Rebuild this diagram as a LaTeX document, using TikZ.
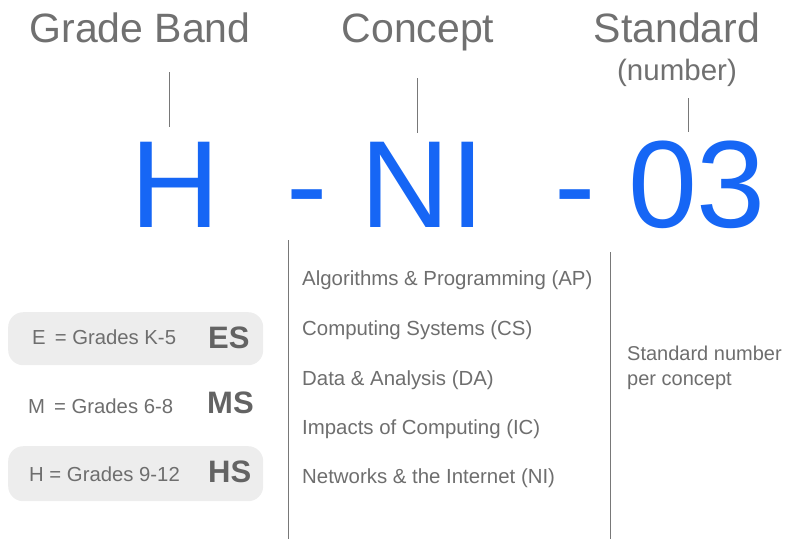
\documentclass[tikz,border=0pt]{standalone}
\usepackage{fontspec}
\setmainfont{Liberation Sans}
\definecolor{bigblue}{RGB}{22,102,245}
\definecolor{titlegray}{RGB}{112,112,112}
\definecolor{txtgray}{RGB}{110,110,110}
\definecolor{boxgray}{RGB}{237,237,237}
\definecolor{linegray}{RGB}{120,120,120}
\begin{document}
\begin{tikzpicture}[x=1pt,y=-1pt,
  title/.style={inner sep=0pt,anchor=base,text=titlegray,font=\fontsize{41}{41}\selectfont},
  big/.style={inner sep=0pt,anchor=base,text=bigblue,font=\fontsize{124}{124}\selectfont},
  item/.style={inner sep=0pt,anchor=base west,text=txtgray,font=\fontsize{20.4}{22}\selectfont},
  grade/.style={inner sep=0pt,anchor=base west,text=txtgray,font=\fontsize{20.3}{22}\selectfont},
  band/.style={inner sep=0pt,anchor=base west,text=txtgray!90!black,font=\fontsize{31}{31}\selectfont\bfseries},
  gbox/.style={fill=boxgray,rounded corners=15pt,draw=none},
  tick/.style={draw=linegray,line width=0.7pt},
  sep/.style={draw=linegray,line width=0.8pt}]
\useasboundingbox (0,0) rectangle (787,539);
% titles
\node[title] (tgrade) at (140,42) {Grade Band};
\node[title] (tconcept) at (418,42) {Concept};
\node[title] (tstd) at (677,42) {Standard};
\node[title,font=\fontsize{29.5}{29.5}\selectfont] (tnum) at (677,80) {(number)};
% big code
\node[big] (H) at (175,227) {H};
\node[big] (d1) at (307.5,227) {-};
\node[big] (NI) at (422.5,227) {NI};
\node[big] (d2) at (575,227) {-};
\node[big] (N03) at (697,227) {03};
% ticks
\coordinate (g1) at (169.5,72); \coordinate (g2) at (169.5,127);
\coordinate (c1) at (417,78); \coordinate (c2) at (417,133);
\coordinate (s1) at (688,98); \coordinate (s2) at (688,132);
\draw[tick] (g1) -- (g2);
\draw[tick] (c1) -- (c2);
\draw[tick] (s1) -- (s2);
% separators
\coordinate (v1a) at (288,240); \coordinate (v1b) at (288,539);
\coordinate (v2a) at (610,252); \coordinate (v2b) at (610,539);
\draw[sep] (v1a) -- (v1b);
\draw[sep] (v2a) -- (v2b);
% grade boxes
\node[gbox,minimum width=255pt,minimum height=53pt,anchor=north west] (boxE) at (8,312) {};
\node[gbox,minimum width=255pt,minimum height=55pt,anchor=north west] (boxH) at (8,446) {};
\node[grade] (gE) at (32,344) {E\, = Grades K-5};
\node[band] (ES) at (208,348) {ES};
\node[grade] (gM) at (28,413) {M\, = Grades 6-8};
\node[band] (MS) at (207,413) {MS};
\node[grade] (gH) at (29,481) {H = Grades 9-12};
\node[band] (HS) at (208,482) {HS};
% concepts
\node[item] (ap) at (302,285) {Algorithms \& Programming (AP)};
\node[item] (cs) at (302,335) {Computing Systems (CS)};
\node[item] (da) at (302,385) {Data \& Analysis (DA)};
\node[item] (ic) at (302,434) {Impacts of Computing (IC)};
\node[item] (ni) at (302,483) {Networks \& the Internet (NI)};
% standard
\node[item,align=left,font=\fontsize{20}{25}\selectfont,anchor=base west] (stdnum) at (627,385) {Standard number\\per concept};
\end{tikzpicture}
\end{document}
